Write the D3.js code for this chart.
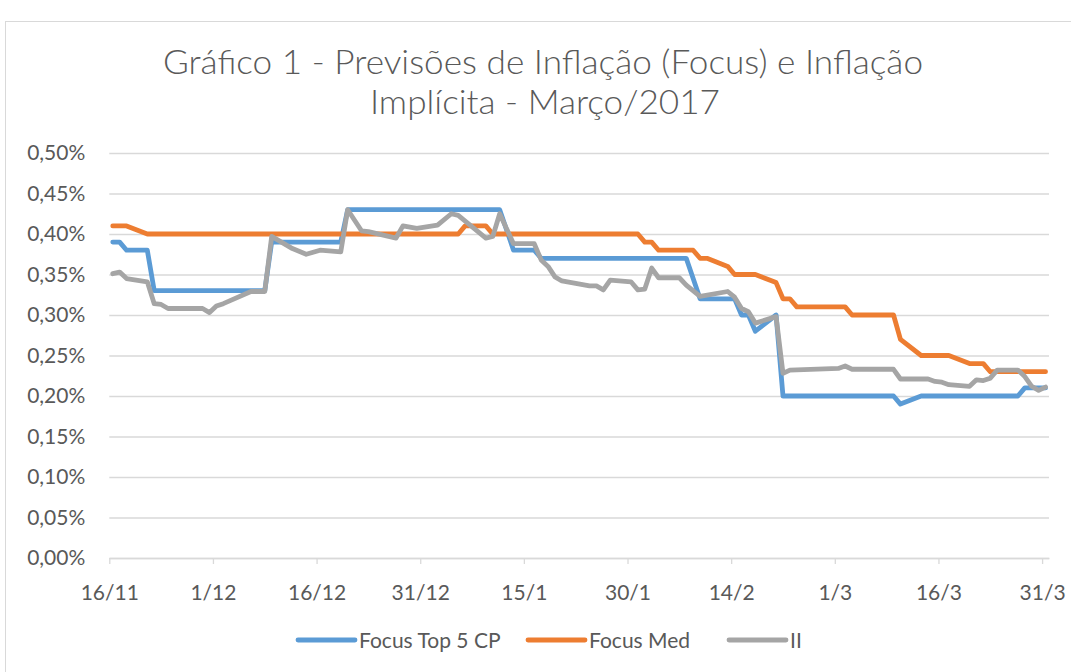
<!DOCTYPE html>
<html>
<head>
<meta charset="utf-8">
<script src="https://cdn.jsdelivr.net/npm/d3@7"></script>
<style>
  body { margin: 0; background: #fff; }
  svg { display: block; font-family: Lato, "Open Sans", sans-serif; }
</style>
</head>
<body>
<svg width="1071" height="672"></svg>
<script>
  // Series as [date, value in %] vertices
  var focusTop5 = [
    ["16/11/2016", 0.39], ["17/11/2016", 0.39], ["18/11/2016", 0.38], ["21/11/2016", 0.38],
    ["22/11/2016", 0.33], ["08/12/2016", 0.33], ["09/12/2016", 0.39], ["19/12/2016", 0.39],
    ["20/12/2016", 0.43], ["11/01/2017", 0.43], ["13/01/2017", 0.38], ["16/01/2017", 0.38],
    ["17/01/2017", 0.37], ["07/02/2017", 0.37], ["09/02/2017", 0.32], ["14/02/2017", 0.32],
    ["15/02/2017", 0.30], ["16/02/2017", 0.30], ["17/02/2017", 0.28], ["20/02/2017", 0.30],
    ["21/02/2017", 0.20], ["09/03/2017", 0.20], ["10/03/2017", 0.19], ["13/03/2017", 0.20],
    ["27/03/2017", 0.20], ["28/03/2017", 0.21], ["31/03/2017", 0.21]
  ];
  var focusMed = [
    ["16/11/2016", 0.41], ["18/11/2016", 0.41], ["21/11/2016", 0.40], ["05/01/2017", 0.40],
    ["06/01/2017", 0.41], ["09/01/2017", 0.41], ["10/01/2017", 0.40], ["31/01/2017", 0.40],
    ["01/02/2017", 0.39], ["02/02/2017", 0.39], ["03/02/2017", 0.38], ["08/02/2017", 0.38],
    ["09/02/2017", 0.37], ["10/02/2017", 0.37], ["13/02/2017", 0.36], ["14/02/2017", 0.35],
    ["17/02/2017", 0.35], ["20/02/2017", 0.34], ["21/02/2017", 0.32], ["22/02/2017", 0.32],
    ["23/02/2017", 0.31], ["02/03/2017", 0.31], ["03/03/2017", 0.30], ["09/03/2017", 0.30],
    ["10/03/2017", 0.27], ["13/03/2017", 0.25], ["17/03/2017", 0.25], ["20/03/2017", 0.24],
    ["22/03/2017", 0.24], ["23/03/2017", 0.23], ["31/03/2017", 0.23]
  ];
  var implicita = [
    ["16/11/2016", 0.351], ["17/11/2016", 0.353], ["18/11/2016", 0.345], ["21/11/2016", 0.341],
    ["22/11/2016", 0.314], ["23/11/2016", 0.313], ["24/11/2016", 0.308], ["29/11/2016", 0.308],
    ["30/11/2016", 0.303], ["01/12/2016", 0.311], ["02/12/2016", 0.314], ["06/12/2016", 0.329],
    ["08/12/2016", 0.329], ["09/12/2016", 0.397], ["12/12/2016", 0.382], ["14/12/2016", 0.375],
    ["16/12/2016", 0.380], ["19/12/2016", 0.378], ["20/12/2016", 0.430], ["22/12/2016", 0.404],
    ["23/12/2016", 0.403], ["27/12/2016", 0.395], ["28/12/2016", 0.410], ["30/12/2016", 0.407],
    ["02/01/2017", 0.411], ["04/01/2017", 0.425], ["05/01/2017", 0.423], ["09/01/2017", 0.395],
    ["10/01/2017", 0.397], ["11/01/2017", 0.425], ["13/01/2017", 0.388], ["16/01/2017", 0.388],
    ["17/01/2017", 0.368], ["18/01/2017", 0.360], ["19/01/2017", 0.347], ["20/01/2017", 0.342],
    ["24/01/2017", 0.336], ["25/01/2017", 0.336], ["26/01/2017", 0.331], ["27/01/2017", 0.343],
    ["30/01/2017", 0.341], ["31/01/2017", 0.331], ["01/02/2017", 0.332], ["02/02/2017", 0.358],
    ["03/02/2017", 0.346], ["06/02/2017", 0.346], ["07/02/2017", 0.337], ["09/02/2017", 0.323],
    ["13/02/2017", 0.329], ["14/02/2017", 0.322], ["15/02/2017", 0.308], ["16/02/2017", 0.304],
    ["17/02/2017", 0.290], ["20/02/2017", 0.298], ["21/02/2017", 0.228], ["22/02/2017", 0.232],
    ["01/03/2017", 0.234], ["02/03/2017", 0.237], ["03/03/2017", 0.233], ["09/03/2017", 0.233],
    ["10/03/2017", 0.221], ["14/03/2017", 0.221], ["15/03/2017", 0.218], ["16/03/2017", 0.217],
    ["17/03/2017", 0.214], ["20/03/2017", 0.212], ["21/03/2017", 0.220], ["22/03/2017", 0.219],
    ["23/03/2017", 0.222], ["24/03/2017", 0.232], ["27/03/2017", 0.232], ["28/03/2017", 0.224],
    ["29/03/2017", 0.212], ["30/03/2017", 0.207], ["31/03/2017", 0.211]
  ];
  var seriesNames = ["Focus Top 5 CP", "Focus Med", "II"];
  var seriesColors = ["#5B9BD5", "#ED7D31", "#A5A5A5"];
  var xTickLabels = ["16/11/2016", "01/12/2016", "16/12/2016", "31/12/2016", "15/01/2017",
    "30/01/2017", "14/02/2017", "01/03/2017", "16/03/2017", "31/03/2017"];
  var yTicks = [0, 0.05, 0.10, 0.15, 0.20, 0.25, 0.30, 0.35, 0.40, 0.45, 0.50];

  (function () {
    var parse = d3.timeParse("%d/%m/%Y");
    var svg = d3.select("svg");

    var plotLeft = 109.3, plotRight = 1049, plotTop = 153, plotBottom = 558;

    var x = d3.scaleTime()
      .domain([parse("16/11/2016"), parse("01/04/2017")])
      .range([plotLeft, plotRight]);
    var y = d3.scaleLinear().domain([0, 0.5]).range([plotBottom, plotTop]);

    // chart frame
    svg.append("rect")
      .attr("x", 5.5).attr("y", 21.5)
      .attr("width", 1080).attr("height", 680)
      .attr("fill", "none").attr("stroke", "#D9D9D9");

    // title
    var title = svg.append("g").attr("fill", "#595959")
      .attr("font-size", 34).attr("font-weight", 300).attr("text-anchor", "middle");
    title.append("text").attr("x", 543).attr("y", 74)
      .attr("textLength", 760).attr("lengthAdjust", "spacingAndGlyphs")
      .text("Gráfico 1 - Previsões de Inflação (Focus) e Inflação");
    title.append("text").attr("x", 545).attr("y", 114)
      .attr("textLength", 350).attr("lengthAdjust", "spacingAndGlyphs")
      .text("Implícita - Março/2017");

    // gridlines + y labels
    var yAxis = svg.append("g")
      .attr("transform", "translate(" + plotLeft + ",0)")
      .call(d3.axisLeft(y).tickValues(yTicks).tickSize(-(plotRight - plotLeft)).tickPadding(24)
        .tickFormat(function (d) { return d3.format(".2f")(d).replace(".", ",") + "%"; }));
    yAxis.select(".domain").remove();
    yAxis.selectAll(".tick line").attr("stroke", "#D9D9D9").attr("stroke-width", 1.3);
    yAxis.selectAll(".tick text").attr("fill", "#595959").attr("font-size", 21)
      .attr("font-family", "Lato, sans-serif");

    // x axis
    var xAxis = svg.append("g")
      .attr("transform", "translate(0," + plotBottom + ")")
      .call(d3.axisBottom(x).tickValues(xTickLabels.map(parse)).tickSize(6).tickSizeOuter(0)
        .tickPadding(21).tickFormat(d3.timeFormat("%-d/%-m")));
    xAxis.select(".domain").attr("stroke", "#D9D9D9").attr("stroke-width", 1.3);
    xAxis.selectAll(".tick line").attr("stroke", "#D9D9D9").attr("stroke-width", 1.3);
    xAxis.selectAll(".tick text").attr("fill", "#595959").attr("font-size", 21)
      .attr("font-family", "Lato, sans-serif");

    // lines, points placed mid-day as on the original date axis
    var line = d3.line()
      .x(function (d) { return x(d3.timeHour.offset(parse(d[0]), 12)); })
      .y(function (d) { return y(d[1]); });

    [focusTop5, focusMed, implicita].forEach(function (s, i) {
      svg.append("path")
        .datum(s)
        .attr("d", line)
        .attr("fill", "none")
        .attr("stroke", seriesColors[i])
        .attr("stroke-width", 4.8)
        .attr("stroke-linejoin", "round")
        .attr("stroke-linecap", "round");
    });

    // legend
    var legendX = [298, 528, 729];
    var legend = svg.append("g").attr("font-size", 21).attr("fill", "#595959");
    seriesNames.forEach(function (name, i) {
      legend.append("line")
        .attr("x1", legendX[i]).attr("x2", legendX[i] + 57)
        .attr("y1", 640).attr("y2", 640)
        .attr("stroke", seriesColors[i]).attr("stroke-width", 4.8)
        .attr("stroke-linecap", "round");
      legend.append("text")
        .attr("x", legendX[i] + 61).attr("y", 648)
        .text(name);
    });
  })();
</script>
</body>
</html>
